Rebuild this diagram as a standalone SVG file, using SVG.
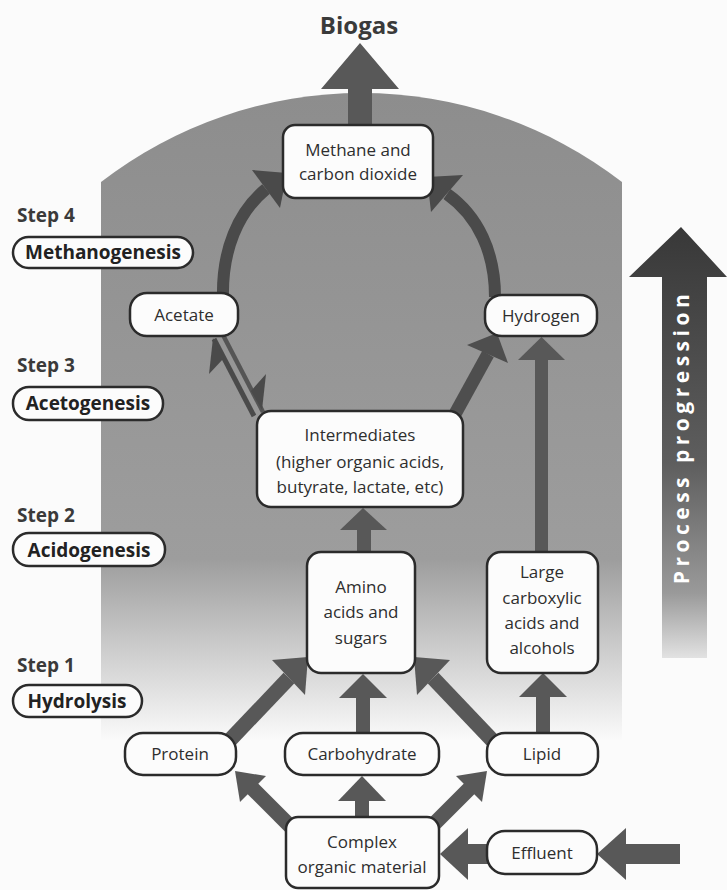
<svg xmlns="http://www.w3.org/2000/svg" width="727" height="890" viewBox="0 0 727 890">
<defs>
<linearGradient id="bg" gradientUnits="userSpaceOnUse" x1="0" y1="93" x2="0" y2="740">
<stop offset="0" stop-color="#8d8d8d"/>
<stop offset="0.72" stop-color="#9d9d9d"/>
<stop offset="0.84" stop-color="#c6c6c6"/>
<stop offset="1" stop-color="#fafafa"/>
</linearGradient>
<linearGradient id="pg" gradientUnits="userSpaceOnUse" x1="0" y1="227" x2="0" y2="658">
<stop offset="0" stop-color="#383838"/>
<stop offset="0.55" stop-color="#5e5e5e"/>
<stop offset="0.85" stop-color="#9a9a9a"/>
<stop offset="1" stop-color="#e2e2e2"/>
</linearGradient>
</defs>
<style>
.box{fill:#fcfcfc;stroke:#2b2b2b;stroke-width:2.5}
.t{font-family:"Open Sans","Liberation Sans",sans-serif;font-size:17px;fill:#2e2e2e;text-anchor:middle}
.st{font-family:"Open Sans","Liberation Sans",sans-serif;font-size:19px;font-weight:bold;fill:#3a3a3a}
.sp{font-family:"Open Sans","Liberation Sans",sans-serif;font-size:19px;font-weight:bold;fill:#222;text-anchor:middle}
.ar{fill:#585858}
.sh{stroke:#585858;fill:none}
.ring{stroke:#4a4a4a;stroke-width:12;fill:none}
.rh{fill:#4a4a4a}
</style>
<rect x="0" y="0" width="727" height="890" fill="#fbfbfb"/>
<path d="M101,740 L101,182 A426,426 0 0 1 622,182 L622,740 Z" fill="url(#bg)"/>

<g id="process-progression">
<polygon points="681,227 727,277 707,277 707,658 662,658 662,277 629,277" fill="url(#pg)"/>
<text x="689" y="437" transform="rotate(-90 689 437)" font-family="'Open Sans','Liberation Sans',sans-serif" font-size="21" font-weight="bold" fill="#ffffff" text-anchor="middle" letter-spacing="4.5">Process progression</text>
</g>

<g id="biogas">
<text x="359" y="34" font-family="'Open Sans','Liberation Sans',sans-serif" font-size="24" font-weight="bold" fill="#3a3a3a" text-anchor="middle">Biogas</text>
</g>

<g id="connectors">
<!-- methane to biogas -->
<polygon class="ar" points="360,43 399,89 372,89 372,127 348,127 348,89 321,89"/>
<!-- ring upper arcs -->
<path class="ring" d="M223,297 C222,250 238,212 266,189"/>
<polygon class="rh" points="287,173 252,170 280,208"/>
<path class="ring" d="M495,297 C495,252 478,216 447,194"/>
<polygon class="rh" points="427,177 463,175 431,212"/>
<!-- intermediates <-> acetate (harpoons) -->
<line x1="214" y1="339" x2="254" y2="416" stroke="#4a4a4a" stroke-width="5"/>
<line x1="223" y1="335" x2="263" y2="412" stroke="#555" stroke-width="4.5"/>
<polygon class="rh" points="213,338 209,374 224,358"/>
<polygon class="rh" points="262,410 266,374 251,391"/>
<!-- intermediates -> hydrogen -->
<line x1="455" y1="414" x2="488" y2="354" stroke="#4e4e4e" stroke-width="13"/>
<polygon fill="#4e4e4e" points="497,333 508,363 467,345"/>
<!-- large carboxylic -> hydrogen -->
<rect class="ar" x="535" y="358" width="13" height="196"/>
<polygon class="ar" points="541.5,337 565,360 518,360"/>
<!-- amino -> intermediates -->
<rect class="ar" x="357" y="528" width="14" height="26"/>
<polygon class="ar" points="363,508 387,530 340,530"/>
<!-- carbohydrate -> amino -->
<rect class="ar" x="356" y="696" width="14" height="38"/>
<polygon class="ar" points="363,674 387,698 339,698"/>
<!-- protein -> amino -->
<line class="sh" x1="230" y1="740" x2="289" y2="678" stroke-width="15"/>
<polygon class="ar" points="308,657 272,660 305,695"/>
<!-- lipid -> amino -->
<line class="sh" x1="492" y1="740" x2="433" y2="678" stroke-width="15"/>
<polygon class="ar" points="414,657 450,660 417,695"/>
<!-- lipid -> large -->
<rect class="ar" x="536" y="695" width="14" height="39"/>
<polygon class="ar" points="543,673 567,697 519,697"/>
<!-- complex -> protein -->
<line class="sh" x1="252" y1="788" x2="300" y2="836" stroke-width="15"/>
<polygon class="ar" points="235,771 266,776 240,802"/>
<!-- complex -> carbohydrate -->
<rect class="ar" x="355" y="799" width="14" height="19"/>
<polygon class="ar" points="362,776 386,801 338,801"/>
<!-- complex -> lipid -->
<line class="sh" x1="470" y1="788" x2="422" y2="836" stroke-width="15"/>
<polygon class="ar" points="487,771 456,776 482,802"/>
<!-- effluent -> complex -->
<rect class="ar" x="466" y="844" width="22" height="20"/>
<polygon class="ar" points="440,854 468,828 468,880"/>
<!-- input -> effluent -->
<rect class="ar" x="624" y="844" width="56" height="20"/>
<polygon class="ar" points="597,854 626,828 626,880"/>
</g>

<g id="step4">
<text class="st" x="17" y="222">Step 4</text>
<rect class="box" x="13" y="237" width="180" height="31" rx="15.5"/>
<text class="sp" x="103" y="259">Methanogenesis</text>
</g>
<g id="step3">
<text class="st" x="17" y="372">Step 3</text>
<rect class="box" x="13" y="387" width="150" height="33" rx="16"/>
<text class="sp" x="88" y="410">Acetogenesis</text>
</g>
<g id="step2">
<text class="st" x="17" y="522">Step 2</text>
<rect class="box" x="13" y="533" width="152" height="33" rx="16"/>
<text class="sp" x="89" y="557">Acidogenesis</text>
</g>
<g id="step1">
<text class="st" x="17" y="672">Step 1</text>
<rect class="box" x="13" y="685" width="129" height="32" rx="16"/>
<text class="sp" x="77" y="708">Hydrolysis</text>
</g>

<g id="methane">
<rect class="box" x="283" y="125" width="150" height="73" rx="12"/>
<text class="t" x="358" y="156">Methane and</text>
<text class="t" x="358" y="180">carbon dioxide</text>
</g>
<g id="acetate">
<rect class="box" x="130" y="293" width="108" height="43" rx="17"/>
<text class="t" x="184" y="321">Acetate</text>
</g>
<g id="hydrogen">
<rect class="box" x="485" y="295" width="112" height="41" rx="17"/>
<text class="t" x="541" y="322">Hydrogen</text>
</g>
<g id="intermediates">
<rect class="box" x="257" y="411" width="206" height="96" rx="14"/>
<text class="t" x="360" y="441">Intermediates</text>
<text class="t" x="360" y="468">(higher organic acids,</text>
<text class="t" x="360" y="493">butyrate, lactate, etc)</text>
</g>
<g id="amino">
<rect class="box" x="307" y="552" width="108" height="121" rx="14"/>
<text class="t" x="361" y="593">Amino</text>
<text class="t" x="361" y="618">acids and</text>
<text class="t" x="361" y="644">sugars</text>
</g>
<g id="large-carboxylic">
<rect class="box" x="487" y="552" width="111" height="121" rx="14"/>
<text class="t" x="542" y="578">Large</text>
<text class="t" x="542" y="604">carboxylic</text>
<text class="t" x="542" y="629">acids and</text>
<text class="t" x="542" y="654">alcohols</text>
</g>
<g id="protein">
<rect class="box" x="125" y="733" width="111" height="42" rx="18"/>
<text class="t" x="180" y="760">Protein</text>
</g>
<g id="carbohydrate">
<rect class="box" x="285" y="733" width="154" height="42" rx="18"/>
<text class="t" x="362" y="760">Carbohydrate</text>
</g>
<g id="lipid">
<rect class="box" x="487" y="733" width="111" height="42" rx="18"/>
<text class="t" x="542" y="760">Lipid</text>
</g>
<g id="complex">
<rect class="box" x="286" y="817" width="153" height="71" rx="12"/>
<text class="t" x="362" y="848">Complex</text>
<text class="t" x="362" y="873">organic material</text>
</g>
<g id="effluent">
<rect class="box" x="487" y="831" width="110" height="43" rx="18"/>
<text class="t" x="542" y="859">Effluent</text>
</g>
</svg>
